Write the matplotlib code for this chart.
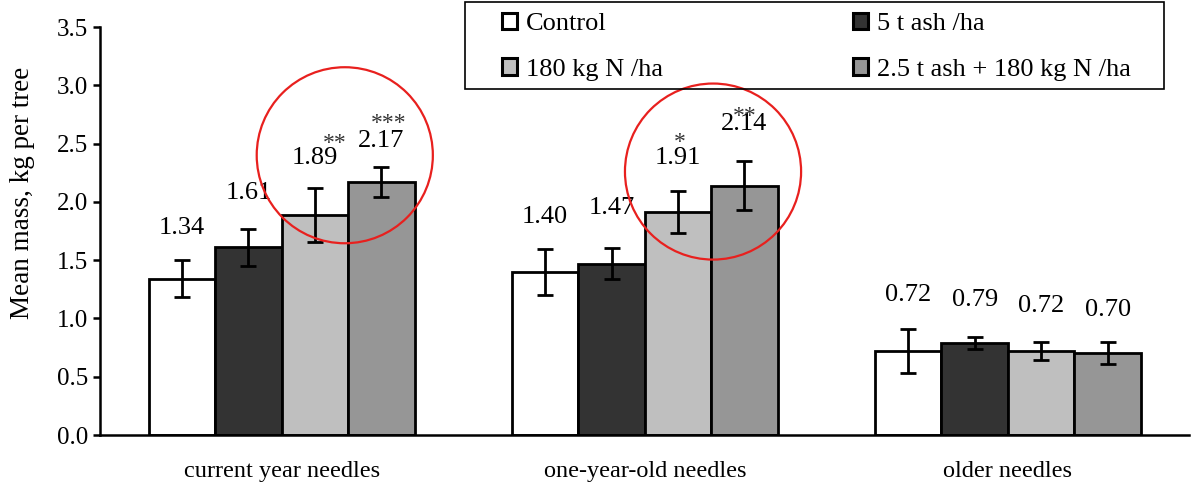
import numpy as np
import matplotlib.pyplot as plt
from matplotlib.patches import Ellipse, Rectangle

plt.rcParams['font.family'] = ['Liberation Serif', 'DejaVu Serif']

categories = ["current year needles", "one-year-old needles", "older needles"]
treatments = ["Control", "5 t ash /ha", "180 kg N /ha", "2.5 t ash + 180 kg N /ha"]
colors = ["#ffffff", "#333333", "#bfbfbf", "#969696"]

control = [1.34, 1.40, 0.72]
ash = [1.61, 1.47, 0.79]
nitrogen = [1.89, 1.91, 0.72]
ash_nitrogen = [2.17, 2.14, 0.70]

control_err = [0.16, 0.20, 0.19]
ash_err = [0.16, 0.135, 0.05]
nitrogen_err = [0.23, 0.18, 0.08]
ash_nitrogen_err = [0.13, 0.21, 0.095]

# significance marks per treatment / category
stars = [["", "", ""], ["", "", ""], ["**", "*", ""], ["***", "**", ""]]

means = [control, ash, nitrogen, ash_nitrogen]
errs = [control_err, ash_err, nitrogen_err, ash_nitrogen_err]

# label placement (text centre, data units)
label_y = [[1.78, 1.87, 1.20], [2.08, 1.95, 1.16], [2.38, 2.38, 1.11], [2.52, 2.67, 1.07]]
star_y = [[0, 0, 0], [0, 0, 0], [2.50, 2.51, 0], [2.67, 2.73, 0]]
star_dx = [[0, 0, 0], [0, 0, 0], [0.055, 0.006, 0], [0.021, 0.002, 0]]

fig = plt.figure(figsize=(11.92, 4.91), dpi=100)
ax = fig.add_axes([0.0839, 0.114, 0.914, 0.831])

x = np.arange(len(categories))
width = 0.183
bars = []
for i, (name, vals, err, col) in enumerate(zip(treatments, means, errs, colors)):
    pos = x + (i - 1.5) * width
    b = ax.bar(pos, vals, width=width, color=col, edgecolor="black", linewidth=2.0,
               label=name, zorder=2)
    bars.append(b)
    ax.errorbar(pos, vals, yerr=err, fmt="none", ecolor="black", elinewidth=2.0,
                capsize=5.5, capthick=2.0, zorder=3)
    for j in range(len(categories)):
        ax.text(pos[j], label_y[i][j], f"{vals[j]:.2f}", ha="center", va="center",
                fontsize=19, zorder=4)
        if stars[i][j]:
            ax.text(pos[j] + star_dx[i][j], star_y[i][j], stars[i][j], ha="center",
                    va="center", fontsize=17, color="#333333", zorder=4)

# highlight rings around the significant bars
ax.add_patch(Ellipse((0.174, 2.40), 0.485, 1.51, fill=False, edgecolor="#e8201e",
                     linewidth=1.6, zorder=5))
ax.add_patch(Ellipse((1.188, 2.26), 0.485, 1.51, fill=False, edgecolor="#e8201e",
                     linewidth=1.6, zorder=5))

ax.set_xlim(-0.5, 2.5)
ax.set_ylim(0, 3.5)
ax.set_yticks(np.arange(0, 3.51, 0.5))
ax.yaxis.set_major_formatter(plt.FormatStrFormatter("%.1f"))
ax.set_xticks(x)
ax.set_xticklabels(categories, fontsize=17.5)
ax.tick_params(axis="x", length=0, pad=19)
ax.tick_params(axis="y", direction="out", length=5, width=1.8, labelsize=18, pad=3.5)
ax.spines["top"].set_visible(False)
ax.spines["right"].set_visible(False)
ax.spines["left"].set_linewidth(1.8)
ax.spines["bottom"].set_linewidth(1.8)
ax.set_ylabel("Mean mass, kg per tree", fontsize=19.5)
ax.yaxis.set_label_coords(-0.0596, 0.593)

# legend: rows are Control / 5 t ash, then 180 kg N / 2.5 t ash + N
order = [0, 2, 1, 3]
leg = fig.legend([bars[k] for k in order], [treatments[k] for k in order],
                 loc="upper left", bbox_to_anchor=(502 / 1192, 1 - 13 / 491),
                 ncol=2, fontsize=19, frameon=False, borderpad=0, borderaxespad=0,
                 handlelength=0.57, handleheight=0.57, handletextpad=0.34,
                 labelspacing=0.87, columnspacing=7.2)
for h in leg.legend_handles:
    h.set_linewidth(2.2)
fig.add_artist(Rectangle((465 / 1192, 1 - 89 / 491), (1164 - 465) / 1192, 87 / 491,
                         transform=fig.transFigure, fill=False, edgecolor="black",
                         linewidth=1.2))

fig.savefig("out.png", dpi=100)
